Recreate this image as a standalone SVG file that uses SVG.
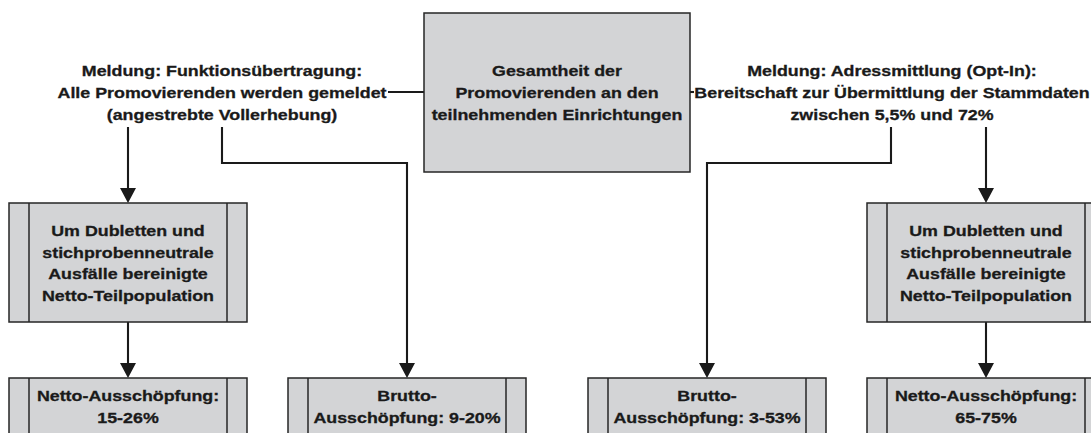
<svg xmlns="http://www.w3.org/2000/svg" width="1091" height="433" viewBox="0 0 1091 433">
<style>
.box{fill:#d3d4d6;stroke:#262626;stroke-width:1.5}
.div{stroke:#262626;stroke-width:1.5}
.con{fill:none;stroke:#1a1a1a;stroke-width:2.1}
text{font-family:"Liberation Sans",Arial,sans-serif;font-weight:bold;font-size:15px;fill:#1a1a1a;stroke:#1a1a1a;stroke-width:0.3;text-anchor:middle}
</style>
<defs>
<marker id="arr" markerUnits="userSpaceOnUse" markerWidth="16" markerHeight="16" refX="0" refY="8" orient="auto" viewBox="0 0 16 16">
<path d="M0,0 L15,8 L0,16 z" fill="#1a1a1a"/>
</marker>
</defs>
<rect width="1091" height="433" fill="#ffffff"/>

<g id="connectors">
<path class="con" d="M388,92 H424"/>
<path class="con" d="M690,92 H694"/>
<path class="con" d="M128,127 V188" marker-end="url(#arr)"/>
<path class="con" d="M222,127 V163 H407 V363" marker-end="url(#arr)"/>
<path class="con" d="M891,127 V163 H707 V363" marker-end="url(#arr)"/>
<path class="con" d="M986,127 V188" marker-end="url(#arr)"/>
<path class="con" d="M128,322 V363" marker-end="url(#arr)"/>
<path class="con" d="M986,322 V363" marker-end="url(#arr)"/>
</g>

<g id="gesamtheit">
<rect class="box" x="424" y="13" width="266" height="159"/>
<text transform="translate(557 0) scale(1.19 1)"><tspan x="0" y="76">Gesamtheit der</tspan><tspan x="0" y="98">Promovierenden an den</tspan><tspan x="0" y="120">teilnehmenden Einrichtungen</tspan></text>
</g>

<g id="label-funktion">
<text transform="translate(222 0) scale(1.19 1)"><tspan x="0" y="76">Meldung: Funktionsübertragung:</tspan><tspan x="0" y="98">Alle Promovierenden werden gemeldet</tspan><tspan x="0" y="120">(angestrebte Vollerhebung)</tspan></text>
</g>

<g id="label-adress">
<text transform="translate(892 0) scale(1.19 1)"><tspan x="0" y="76">Meldung: Adressmittlung (Opt-In):</tspan><tspan x="0" y="98">Bereitschaft zur Übermittlung der Stammdaten</tspan><tspan x="0" y="120">zwischen 5,5% und 72%</tspan></text>
</g>

<g id="netto-left">
<rect class="box" x="9" y="203" width="238" height="119"/>
<line class="div" x1="29" y1="203" x2="29" y2="322"/><line class="div" x1="227" y1="203" x2="227" y2="322"/>
<text transform="translate(128 0) scale(1.19 1)"><tspan x="0" y="236">Um Dubletten und</tspan><tspan x="0" y="258">stichprobenneutrale</tspan><tspan x="0" y="279.5">Ausfälle bereinigte</tspan><tspan x="0" y="301">Netto-Teilpopulation</tspan></text>
</g>

<g id="netto-right">
<rect class="box" x="867" y="203" width="238" height="119"/>
<line class="div" x1="887" y1="203" x2="887" y2="322"/><line class="div" x1="1085" y1="203" x2="1085" y2="322"/>
<text transform="translate(986 0) scale(1.19 1)"><tspan x="0" y="236">Um Dubletten und</tspan><tspan x="0" y="258">stichprobenneutrale</tspan><tspan x="0" y="279.5">Ausfälle bereinigte</tspan><tspan x="0" y="301">Netto-Teilpopulation</tspan></text>
</g>

<g id="netto-aus-left">
<rect class="box" x="9" y="378" width="238" height="70"/>
<line class="div" x1="29" y1="378" x2="29" y2="448"/><line class="div" x1="227" y1="378" x2="227" y2="448"/>
<text transform="translate(128 0) scale(1.19 1)"><tspan x="0" y="401">Netto-Ausschöpfung:</tspan><tspan x="0" y="423">15-26%</tspan></text>
</g>

<g id="brutto-left">
<rect class="box" x="288" y="378" width="238" height="70"/>
<line class="div" x1="308" y1="378" x2="308" y2="448"/><line class="div" x1="506" y1="378" x2="506" y2="448"/>
<text transform="translate(407 0) scale(1.19 1)"><tspan x="0" y="401">Brutto-</tspan><tspan x="0" y="423">Ausschöpfung: 9-20%</tspan></text>
</g>

<g id="brutto-right">
<rect class="box" x="588" y="378" width="238" height="70"/>
<line class="div" x1="608" y1="378" x2="608" y2="448"/><line class="div" x1="806" y1="378" x2="806" y2="448"/>
<text transform="translate(707 0) scale(1.19 1)"><tspan x="0" y="401">Brutto-</tspan><tspan x="0" y="423">Ausschöpfung: 3-53%</tspan></text>
</g>

<g id="netto-aus-right">
<rect class="box" x="867" y="378" width="238" height="70"/>
<line class="div" x1="887" y1="378" x2="887" y2="448"/><line class="div" x1="1085" y1="378" x2="1085" y2="448"/>
<text transform="translate(986 0) scale(1.19 1)"><tspan x="0" y="401">Netto-Ausschöpfung:</tspan><tspan x="0" y="423">65-75%</tspan></text>
</g>
</svg>
